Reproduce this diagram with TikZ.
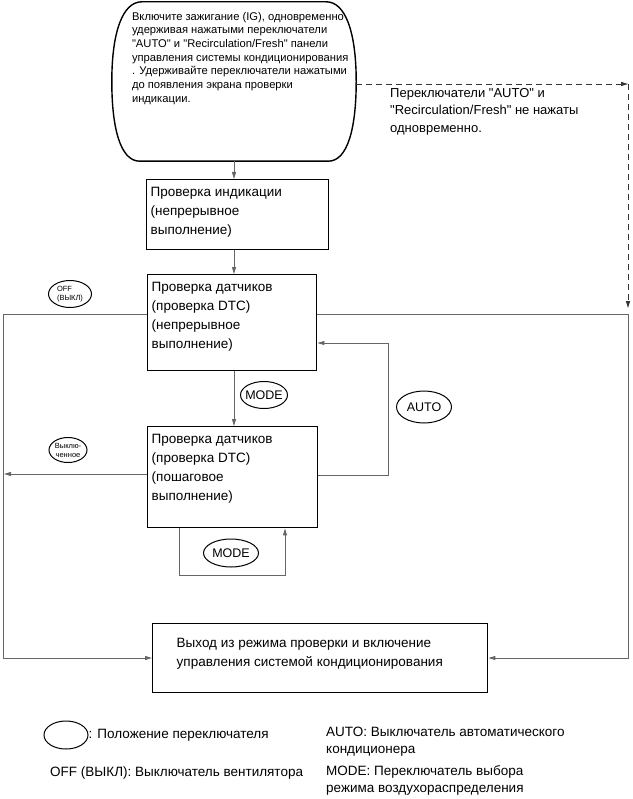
\documentclass[tikz,border=0pt]{standalone}
\usepackage{fontspec}
\setmainfont{Liberation Sans}
\usetikzlibrary{arrows.meta, positioning, calc, shapes.geometric}
\definecolor{lngray}{gray}{0.4}
\newcommand{\boxtxt}[3]{\parbox[c][#2][t]{#1}{\raggedright #3}}
\newcommand{\qt}{\textquotedbl}

\begin{document}
\begin{tikzpicture}[x=1pt, y=-1pt,
    check/.style={draw, line width=1.4pt, anchor=north west, inner xsep=4pt,
                  inner ysep=8pt, font=\fontsize{13.5}{19}\selectfont},
    sw/.style={draw, ellipse, line width=1pt, inner sep=-8pt,
               font=\fontsize{12.5}{14}\selectfont},
    tiny/.style={sw, font=\fontsize{7.5}{9}\selectfont, align=left},
    conn/.style={draw=lngray, line width=0.9pt},
    arr/.style={conn, -{Triangle[length=7pt, width=4pt]}},
    dashln/.style={draw=black!80, line width=0.9pt, dash pattern=on 6pt off 4pt,
                   -{Triangle[length=7pt, width=4pt]}},
    note/.style={anchor=north west, align=left, inner sep=0pt,
                 font=\fontsize{13.5}{17}\selectfont},
  ]
  \useasboundingbox (0,0) rectangle (632,799);

  % start condition
  \node[minimum width=244pt, minimum height=159pt, inner sep=0pt,
        font=\fontsize{11.2}{13.7}\selectfont] (start) at (234,81.5)
    {\hspace*{20pt}\boxtxt{224pt}{139pt}{Включите зажигание (IG), одновременно\\
     удерживая нажатыми переключатели\\
     \qt{}AUTO\qt{} и \qt{}Recirculation/Fresh\qt{} панели\\
     управления системы кондиционирования\\
     . Удерживайте переключатели нажатыми\\
     до появления экрана проверки\\
     индикации.}};
  \draw[line width=1.4pt] ($(start.north west)+(30,0)$) -- ($(start.north east)+(-30,0)$)
    .. controls ($(start.north east)+(-11,0)$) and ($(start.east)+(0,-50)$) .. (start.east)
    .. controls ($(start.east)+(0,45)$) and ($(start.south east)+(-8,0)$) .. ($(start.south east)+(-28,0)$)
    -- ($(start.south west)+(28,0)$)
    .. controls ($(start.south west)+(8,0)$) and ($(start.west)+(0,45)$) .. (start.west)
    .. controls ($(start.west)+(0,-50)$) and ($(start.north west)+(11,0)$) .. cycle;

  % check modes
  \node[check] (ind) at (146,179)
    {\boxtxt{174pt}{54pt}{Проверка индикации\\(непрерывное\\выполнение)}};
  \node[check] (dtc1) at (147,274)
    {\boxtxt{161pt}{80pt}{Проверка датчиков\\(проверка DTC)\\(непрерывное\\выполнение)}};
  \node[check] (dtc2) at (147,426)
    {\boxtxt{162pt}{85pt}{Проверка датчиков\\(проверка DTC)\\(пошаговое\\выполнение)}};
  \node[check, inner xsep=24pt, inner ysep=15pt] (exit) at (152,623)
    {\boxtxt{287pt}{39pt}{Выход из режима проверки и включение\\управления системой кондиционирования}};

  % switches
  \node[sw, minimum width=47pt, minimum height=27pt] (mode1) at (264,395) {MODE};
  \node[sw, minimum width=55pt, minimum height=32pt] (auto) at (424,407) {AUTO};
  \node[sw, minimum width=55pt, minimum height=28pt] (mode2) at (231,553) {MODE};
  \node[tiny, minimum width=43pt, minimum height=27pt] (off) at (70,294) {OFF\\(ВЫКЛ)};
  \node[tiny, align=center, minimum width=38pt, minimum height=25pt] (offsw) at (68,450)
    {Выклю-\\ченное};

  \node[note, font=\fontsize{13}{17.5}\selectfont] (nopress) at (390,88)
    {Переключатели \qt{}AUTO\qt{} и\\\qt{}Recirculation/Fresh\qt{} не нажаты\\одновременно.};

  % corners
  \coordinate (autoT) at (388,343);
  \coordinate (autoB) at (388,475);
  \coordinate (modeL) at (179,575);
  \coordinate (modeR) at (285,575);
  \coordinate (offT) at (3,314);
  \coordinate (offM) at (4,474);
  \coordinate (offB) at (3,658);
  \coordinate (rgtT) at (628,314);
  \coordinate (rgtB) at (628,658);
  \coordinate (dashC) at (628,84);
  \coordinate (dashE) at (628,308);

  % connectors
  \draw[arr] (start.south) -- (start.south |- ind.north);
  \draw[arr] (start.south |- ind.south) -- (start.south |- dtc1.north);
  \draw[arr] (start.south |- dtc1.south) -- (start.south |- dtc2.north);
  \draw[arr] (dtc2.east |- autoB) -- (autoB) -- (autoT) -- (dtc1.east |- autoT);
  \draw[arr] (dtc2.south -| modeL) -- (modeL) -- (modeR) -- (dtc2.south -| modeR);
  \draw[arr] (dtc1.west |- offT) -- (offT) -- (offB) -- (exit.west |- offB);
  \draw[arr] (dtc2.west |- offM) -- (offM);
  \draw[arr] (dtc1.east |- rgtT) -- (rgtT) -- (rgtB) -- (exit.east |- rgtB);
  \draw[dashln] (start.east |- dashC) -- (dashC);
  \draw[dashln] (dashC) -- (dashE);

  % legend
  \node[sw, minimum width=44pt, minimum height=28pt] (legsw) at (66,735) {};
  \node[note, anchor=west] (legtxt) at (legsw.east) {: Положение переключателя};
  \node[note] (legauto) at (326,727) {AUTO: Выключатель автоматического\\кондиционера};
  \node[note, anchor=west] (legoff) at (50,773) {OFF (ВЫКЛ): Выключатель вентилятора};
  \node[note] (legmode) at (326,765) {MODE: Переключатель выбора\\режима воздухораспределения};
\end{tikzpicture}
\end{document}
